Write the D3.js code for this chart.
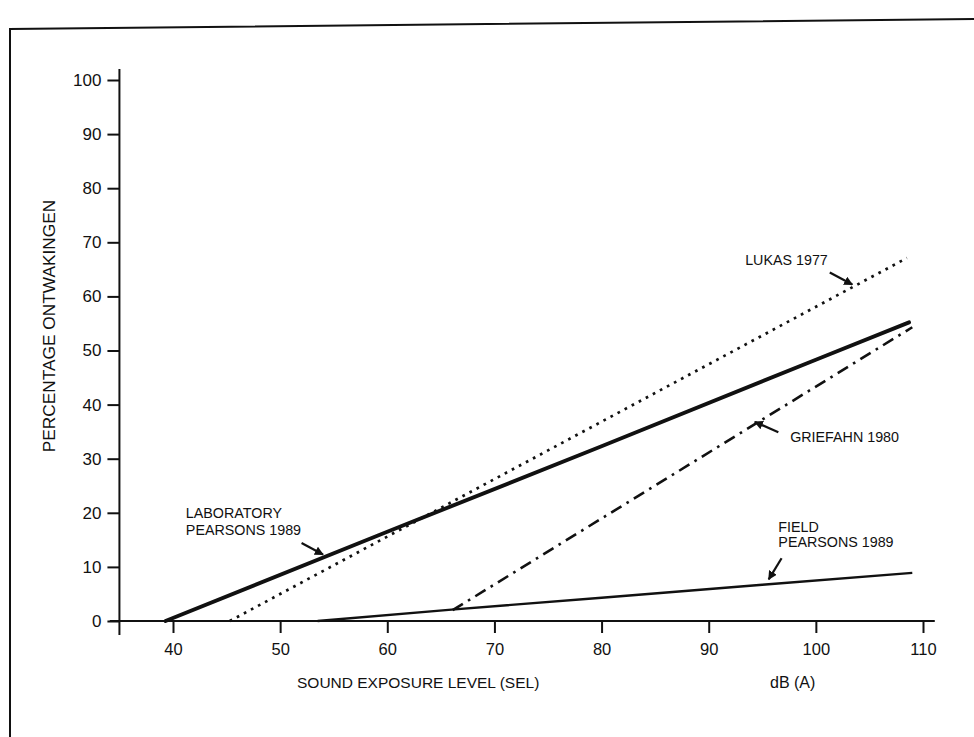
<!DOCTYPE html>
<html>
<head>
<meta charset="utf-8">
<script src="https://cdn.jsdelivr.net/npm/d3@7"></script>
<style>
  html, body { margin: 0; padding: 0; background: #fff; }
  svg { display: block; }
  text { font-family: "Liberation Sans", Arial, Helvetica, sans-serif; fill: #111; }
</style>
</head>
<body>
<svg id="chart" width="974" height="737"></svg>
<script>
// ---- data ----
const xTicks = [40, 50, 60, 70, 80, 90, 100, 110];
const yTicks = [0, 10, 20, 30, 40, 50, 60, 70, 80, 90, 100];

const labX = [39.3, 60, 80, 100, 108.7];
const labY = [0, 16.5, 32.3, 48.3, 55.2];

const lukasX = [45.3, 108.5];
const lukasY = [0, 67.1];

const griefahnX = [66.1, 109];
const griefahnY = [2.0, 54.3];

const fieldX = [53.5, 66, 80, 95, 109];
const fieldY = [0, 2.1, 4.3, 6.7, 8.9];

const xTitle = "SOUND EXPOSURE LEVEL (SEL)";
const xUnit = "dB (A)";
const yTitle = "PERCENTAGE ONTWAKINGEN";

// ---- drawing ----
const svg = d3.select("#chart");
const x = d3.scaleLinear().domain([40, 110]).range([173, 923]);
const y = d3.scaleLinear().domain([0, 100]).range([621, 80]);

// frame (scanned page border)
svg.append("path")
  .attr("d", "M10,737 L10,29 L974,19")
  .attr("fill", "none").attr("stroke", "#111").attr("stroke-width", 2);

// arrow marker
const defs = svg.append("defs");
defs.append("marker").attr("id", "ah")
  .attr("viewBox", "0 0 10 10").attr("refX", 9).attr("refY", 5)
  .attr("markerWidth", 9).attr("markerHeight", 9)
  .attr("markerUnits", "userSpaceOnUse")
  .attr("orient", "auto")
  .append("path").attr("d", "M0,0 L10,5 L0,10 z").attr("fill", "#111");

// axes
const xAxisG = svg.append("g").attr("transform", `translate(0,${y(0)})`)
  .call(d3.axisBottom(x).tickValues(xTicks).tickSize(12).tickPadding(10).tickFormat(d3.format("d")));
xAxisG.select(".domain").remove();
xAxisG.append("line").attr("x1", x(34.1)).attr("x2", x(111.1)).attr("y1", 0).attr("y2", 0)
  .attr("stroke", "#111").attr("stroke-width", 2);
xAxisG.selectAll(".tick line").attr("stroke", "#111").attr("stroke-width", 2);
xAxisG.selectAll(".tick text").attr("font-size", 16.5).attr("fill", "#111")
  .attr("font-family", "Liberation Sans, Arial, sans-serif");

const yAxisG = svg.append("g").attr("transform", `translate(${x(35)},0)`)
  .call(d3.axisLeft(y).tickValues(yTicks).tickSize(12).tickPadding(6).tickFormat(d3.format("d")));
yAxisG.select(".domain").remove();
yAxisG.append("line").attr("x1", 0).attr("x2", 0).attr("y1", y(0) + 14).attr("y2", y(100) - 11)
  .attr("stroke", "#111").attr("stroke-width", 2);
yAxisG.selectAll(".tick line").attr("stroke", "#111").attr("stroke-width", 2);
yAxisG.selectAll(".tick text").attr("font-size", 17).attr("fill", "#111")
  .attr("font-family", "Liberation Sans, Arial, sans-serif");

// lines
const line = d3.line().x(d => x(d[0])).y(d => y(d[1]));
const zip = (a, b) => a.map((v, i) => [v, b[i]]);

svg.append("path").datum(zip(fieldX, fieldY)).attr("d", line)
  .attr("fill", "none").attr("stroke", "#111").attr("stroke-width", 2.3);

svg.append("path").datum(zip(lukasX, lukasY)).attr("d", line)
  .attr("fill", "none").attr("stroke", "#111").attr("stroke-width", 2.7)
  .attr("stroke-dasharray", "2.7,5.3");

svg.append("path").datum(zip(griefahnX, griefahnY)).attr("d", line)
  .attr("fill", "none").attr("stroke", "#111").attr("stroke-width", 2.6)
  .attr("stroke-dasharray", "12,6,2.6,6");

svg.append("path").datum(zip(labX, labY)).attr("d", line)
  .attr("fill", "none").attr("stroke", "#111").attr("stroke-width", 3.9)
  .attr("stroke-linecap", "round");

// annotations
function label(lines, vx, vy, dy) {
  const t = svg.append("text").attr("x", x(vx)).attr("y", y(vy)).attr("font-size", 14.3);
  lines.forEach((s, i) => t.append("tspan").attr("x", x(vx)).attr("dy", i === 0 ? 0 : dy).text(s));
}
function arrow(x1, y1, x2, y2) {
  svg.append("line").attr("x1", x(x1)).attr("y1", y(y1)).attr("x2", x(x2)).attr("y2", y(y2))
    .attr("stroke", "#111").attr("stroke-width", 2.2).attr("marker-end", "url(#ah)");
}
label(["LUKAS 1977"], 93.4, 65.8, 0);
arrow(101.3, 64.4, 103.4, 62.2);
label(["GRIEFAHN 1980"], 97.6, 33.1, 0);
arrow(96.5, 34.9, 94.3, 36.8);
label(["LABORATORY", "PEARSONS 1989"], 41.2, 19.0, 17);
arrow(52.0, 14.4, 54.0, 12.3);
label(["FIELD", "PEARSONS 1989"], 96.5, 16.5, 15.5);
arrow(96.8, 11.6, 95.6, 7.7);

// axis titles
svg.append("text").attr("x", 297).attr("y", 688).attr("font-size", 15.5).text(xTitle);
svg.append("text").attr("x", 770).attr("y", 688).attr("font-size", 16).text(xUnit);
svg.append("text").attr("transform", `translate(55,326) rotate(-90)`)
  .attr("text-anchor", "middle").attr("font-size", 17.3).text(yTitle);
</script>
</body>
</html>
